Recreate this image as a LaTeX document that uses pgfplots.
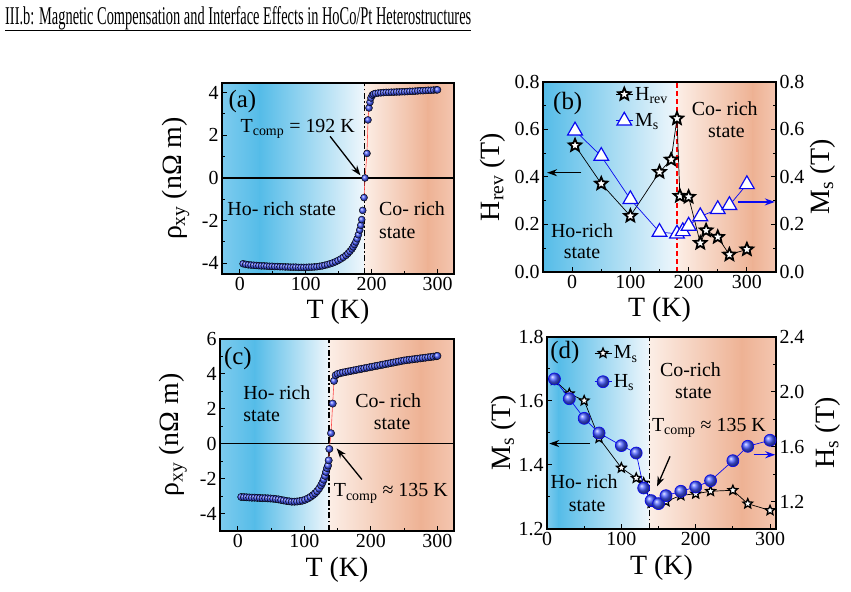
\documentclass[border=0pt]{standalone}
\usepackage{pgfplots}
\pgfplotsset{compat=1.18}
\usepackage{fontspec}
\setmainfont{Liberation Serif}
\usetikzlibrary{arrows.meta,plotmarks}

\definecolor{bluedark}{RGB}{85,188,232}
\definecolor{bluemid}{RGB}{125,203,238}
\definecolor{bluelight}{RGB}{240,247,252}
\definecolor{salmonlight}{RGB}{252,238,230}
\definecolor{salmon}{RGB}{238,178,148}
\definecolor{salmonedge}{RGB}{244,198,176}
\definecolor{mblue}{RGB}{70,90,255}
\definecolor{tblue}{RGB}{10,10,240}

\pgfdeclareplotmark{fivestar}{%
  \pgfpathmoveto{\pgfpointpolar{90}{\pgfplotmarksize}}%
  \pgfpathlineto{\pgfpointpolar{126}{0.45\pgfplotmarksize}}%
  \pgfpathlineto{\pgfpointpolar{162}{\pgfplotmarksize}}%
  \pgfpathlineto{\pgfpointpolar{198}{0.45\pgfplotmarksize}}%
  \pgfpathlineto{\pgfpointpolar{234}{\pgfplotmarksize}}%
  \pgfpathlineto{\pgfpointpolar{270}{0.45\pgfplotmarksize}}%
  \pgfpathlineto{\pgfpointpolar{306}{\pgfplotmarksize}}%
  \pgfpathlineto{\pgfpointpolar{342}{0.45\pgfplotmarksize}}%
  \pgfpathlineto{\pgfpointpolar{18}{\pgfplotmarksize}}%
  \pgfpathlineto{\pgfpointpolar{54}{0.45\pgfplotmarksize}}%
  \pgfpathclose
  \pgfusepathqfillstroke
}

\pgfplotsset{
  panel/.style={
    scale only axis,
    axis on top,
    axis line style={line width=1.3bp},
    every tick/.style={black, line width=1bp},
    major tick length=5bp, minor tick length=3bp,
    tick align=inside,
    ticklabel style={font=\fontsize{20}{22}\selectfont},
    /pgf/number format/assume math mode=true,
    label style={font=\fontsize{28}{30}\selectfont},
    xlabel style={at={(axis description cs:0.5,-0.2)}, anchor=center},
    minor tick num=1,
  },
  rightpanel/.style={
    scale only axis,
    axis x line=none,
    axis y line*=right,
    axis line style={line width=1.3bp},
    every tick/.style={black, line width=1bp},
    major tick length=5bp, minor tick length=3bp,
    tick align=inside,
    ticklabel style={font=\fontsize{20}{22}\selectfont},
    /pgf/number format/assume math mode=true,
    label style={font=\fontsize{28}{30}\selectfont},
    minor tick num=1,
  },
  onedec/.style={yticklabel style={/pgf/number format/fixed, /pgf/number format/fixed zerofill, /pgf/number format/precision=1}},
}
\newcommand{\tx}{\fontsize{20}{22}\selectfont}
\tikzset{dd/.style={black, line width=1.3bp, dash pattern=on 6bp off 2.5bp on 1.5bp off 2.5bp},
  arr/.style={-{Stealth[length=10bp,width=7bp]}, line width=1.3bp}}

\begin{document}
\begin{tikzpicture}
\useasboundingbox (0,0) rectangle (851bp,592bp);

% title
\node[anchor=base west, inner sep=0pt] at (5bp,567bp) {\resizebox{466bp}{18bp}{III.b: Magnetic Compensation and Interface Effects in HoCo/Pt Heterostructures}};
\draw[line width=1.4bp] (5bp,561.5bp) -- (471bp,561.5bp);

% ---------------- (a)
\begin{axis}[panel, at={(222bp,318bp)}, anchor=south west, width=232bp, height=191bp,
  xmin=-27, xmax=325, ymin=-4.5, ymax=4.45,
  xtick={0,100,200,300}, ytick={-4,-2,0,2,4}, xtick pos=bottom, ytick pos=left,
  xlabel={T (K)}, ylabel={ρ\textsubscript{xy} (nΩ m)},
  ylabel style={at={(axis description cs:-0.2,0.5)}, anchor=center}]
\shade[left color=bluemid, right color=bluedark] (axis cs:-27,-4.5) rectangle (axis cs:30.5,4.45);
\shade[left color=bluedark, right color=bluelight] (axis cs:30,-4.5) rectangle (axis cs:189.5,4.45);
\shade[left color=salmonlight, right color=salmon] (axis cs:189,-4.5) rectangle (axis cs:285.5,4.45);
\shade[left color=salmon, right color=salmonedge] (axis cs:285,-4.5) rectangle (axis cs:325,4.45);
\draw[black, line width=1.1bp] (axis cs:-27,0) -- (axis cs:325,0);
\draw[dd] (axis cs:189,-4.5) -- (axis cs:189,4.45);
\addplot[red!70, line width=0.6bp, forget plot] coordinates {(188.5,-0.92)(190,0.0)(193,1.15)(194.5,2.72)(196,3.28)(197.5,3.55)(199,3.75)(201,3.88)};
\addplot[only marks, mark=ball, mark size=3.5bp, mark options={ball color=mblue}] coordinates {
(5,-4.02)(9,-4.05)(13,-4.07)(17,-4.08)(21,-4.09)(25,-4.10)(29,-4.11)(33,-4.12)(37,-4.12)(41,-4.13)(45,-4.14)(49,-4.14)(53,-4.15)(57,-4.15)(61,-4.16)(65,-4.16)(69,-4.17)(73,-4.17)(77,-4.18)(81,-4.18)(85,-4.18)(89,-4.19)(93,-4.19)(97,-4.19)(101,-4.19)(105,-4.18)(109,-4.18)(113,-4.17)(117,-4.16)(121,-4.14)(125,-4.12)(129,-4.09)(133,-4.06)(137,-4.02)(141,-3.98)(145,-3.93)(149,-3.87)(153,-3.80)(157,-3.72)(161,-3.63)(164,-3.54)(167,-3.44)(170,-3.33)(172,-3.23)(174,-3.12)(176,-3.0)(178,-2.85)(180,-2.66)(182,-2.44)(183.5,-2.22)(185,-1.95)(186.5,-1.52)(188.5,-0.92)(190,0.0)(193,1.15)(194.5,2.72)(196,3.28)(197.5,3.55)(199,3.75)(201,3.88)(203,3.93)(206,3.96)(210,3.98)(214,3.99)
(218,4.00)(222,4.01)(226,4.01)(230,4.02)(234,4.02)(238,4.03)(242,4.03)(246,4.04)(250,4.04)(254,4.05)(258,4.06)(262,4.06)(266,4.07)(270,4.08)(274,4.09)(278,4.09)(282,4.10)(286,4.11)(290,4.11)(294,4.12)(298,4.13)(300,4.13)};
\node[font=\fontsize{25}{26}\selectfont, inner sep=0pt] at (axis cs:4,3.6) {(a)};
\node[font=\tx, anchor=base west, inner sep=0pt] at (axis cs:1,2.15) {T\textsubscript{comp} = 192 K};
\draw[arr] (axis cs:137,1.95) -- (axis cs:183,0.12);
\node[font=\tx, anchor=base west, inner sep=0pt] at (axis cs:-19,-1.75) {Ho- rich state};
\node[font=\tx, anchor=base west, inner sep=0pt] at (axis cs:211,-1.75) {Co- rich};
\node[font=\tx, anchor=base west, inner sep=0pt] at (axis cs:211,-2.84) {state};
\end{axis}

% ---------------- (b)
\begin{axis}[panel, onedec, at={(543bp,320bp)}, anchor=south west, width=233bp, height=190bp,
  xmin=-50, xmax=350, ymin=0, ymax=0.8,
  xtick={0,100,200,300}, ytick={0,0.2,0.4,0.6,0.8}, xtick pos=bottom, ytick pos=left,
  xlabel={T (K)}, ylabel={H\textsubscript{rev} (T)},
  ylabel style={at={(axis description cs:-0.215,0.5)}, anchor=center},
  legend style={at={(axis description cs:0.31,0.985)}, anchor=north west, draw=none, fill=none, font=\tx, row sep=8bp, inner sep=0pt},
  legend cell align=left]
\shade[left color=bluedark, right color=bluelight] (axis cs:-50,0) rectangle (axis cs:180.5,0.8);
\shade[left color=salmonlight, right color=salmon] (axis cs:180,0) rectangle (axis cs:310.5,0.8);
\shade[left color=salmon, right color=salmonedge] (axis cs:310,0) rectangle (axis cs:350,0.8);
\draw[red, line width=1.6bp, dash pattern=on 5bp off 3bp] (axis cs:180,0) -- (axis cs:180,0.8);
\addplot[black, line width=0.7bp, mark=fivestar, mark size=6.5bp, mark options={solid, draw=black, fill=white, line width=1.8bp}] coordinates {
(5,0.533)(50,0.372)(100,0.236)(150,0.421)(170,0.473)(180,0.646)(185,0.32)(200,0.316)(220,0.122)(230,0.175)(250,0.147)(270,0.073)(300,0.095)};
\addlegendentry{H\textsubscript{rev}}
\addlegendimage{tblue, line width=0.7bp, mark=triangle*, mark size=8.5bp, mark options={solid, draw=tblue, fill=white, line width=1.2bp}}
\addlegendentry{M\textsubscript{s}}
\node[font=\fontsize{25}{26}\selectfont, inner sep=0pt] at (axis cs:-7.5,0.709) {(b)};
\node[font=\tx, anchor=base, inner sep=0pt] at (axis cs:262,0.66) {Co- rich};
\node[font=\tx, anchor=base, inner sep=0pt] at (axis cs:265,0.568) {state};
\node[font=\tx, anchor=base, inner sep=0pt] at (axis cs:17,0.147) {Ho-rich};
\node[font=\tx, anchor=base, inner sep=0pt] at (axis cs:17,0.056) {state};
\draw[arr] (axis cs:16,0.418) -- (axis cs:-43,0.418);
\draw[arr, tblue] (axis cs:284,0.295) -- (axis cs:348,0.295);
\end{axis}
\begin{axis}[rightpanel, onedec, at={(543bp,320bp)}, anchor=south west, width=233bp, height=190bp,
  xmin=-50, xmax=350, ymin=0, ymax=0.8, ytick={0,0.2,0.4,0.6,0.8},
  ylabel={M\textsubscript{s} (T)},
  ylabel style={at={(axis description cs:1.2,0.5)}, anchor=center}]
\addplot[tblue, line width=0.7bp, mark=triangle*, mark size=8.5bp, mark options={solid, draw=tblue, fill=white, line width=1.2bp}] coordinates {
(5,0.595)(50,0.488)(100,0.306)(150,0.168)(180,0.161)(190,0.171)(200,0.194)(220,0.234)(250,0.264)(270,0.281)(300,0.369)};
\end{axis}

% ---------------- (c)
\begin{axis}[panel, at={(220bp,61bp)}, anchor=south west, width=234bp, height=192bp,
  xmin=-27, xmax=325, ymin=-5, ymax=6,
  xtick={0,100,200,300}, ytick={-4,-2,0,2,4,6}, xtick pos=bottom, ytick pos=left,
  xlabel={T (K)}, ylabel={ρ\textsubscript{xy} (nΩ m)},
  ylabel style={at={(axis description cs:-0.2,0.5)}, anchor=center}]
\shade[left color=bluemid, right color=bluedark] (axis cs:-27,-5) rectangle (axis cs:25.5,6);
\shade[left color=bluedark, right color=bluelight] (axis cs:25,-5) rectangle (axis cs:137.5,6);
\shade[left color=salmonlight, right color=salmon] (axis cs:137,-5) rectangle (axis cs:275.5,6);
\shade[left color=salmon, right color=salmonedge] (axis cs:275,-5) rectangle (axis cs:325,6);
\draw[black, line width=1.1bp] (axis cs:-27,0) -- (axis cs:325,0);
\draw[dd] (axis cs:137,-5) -- (axis cs:137,6);
\addplot[red!70, line width=0.6bp, forget plot] coordinates {(136.5,-0.95)(137.5,-0.30)(140,0.6)(142.5,2.3)(144.5,3.6)(147,3.92)};
\addplot[only marks, mark=ball, mark size=3.7bp, mark options={ball color=mblue}] coordinates {
(5,-3.05)(9,-3.06)(13,-3.07)(17,-3.08)(21,-3.09)(25,-3.09)(29,-3.10)(33,-3.11)(37,-3.12)(41,-3.12)(45,-3.13)(49,-3.14)(53,-3.15)(57,-3.17)(61,-3.19)(65,-3.22)(69,-3.25)(73,-3.28)(77,-3.30)(81,-3.32)(85,-3.32)(89,-3.31)(93,-3.29)(97,-3.26)(101,-3.21)(105,-3.14)(109,-3.05)(113,-2.94)(116,-2.84)(119,-2.72)(122,-2.57)(125,-2.39)(127,-2.24)(129,-2.06)(131,-1.84)(132.5,-1.62)(134,-1.40)(135.5,-1.25)(136.5,-0.95)(137.5,-0.30)(140,0.6)(142.5,2.3)(144.5,3.6)(147,3.92)
(150,4.00)(154,4.04)(158,4.08)(162,4.11)(166,4.14)(170,4.17)(174,4.20)(178,4.23)(182,4.26)(186,4.29)(190,4.32)(194,4.35)(198,4.38)(202,4.41)(206,4.44)(210,4.47)(214,4.50)(218,4.53)(222,4.56)(226,4.59)(230,4.62)(234,4.65)(238,4.68)(242,4.71)(246,4.74)(250,4.77)(254,4.79)(258,4.81)(262,4.83)(266,4.85)(270,4.87)(274,4.89)(278,4.91)(282,4.93)(286,4.95)(290,4.97)(294,4.99)(298,5.01)(300,5.03)};
\node[font=\fontsize{25}{26}\selectfont, inner sep=0pt] at (axis cs:0,4.9) {(c)};
\node[font=\tx, anchor=base west, inner sep=0pt] at (axis cs:8,2.55) {Ho- rich};
\node[font=\tx, anchor=base west, inner sep=0pt] at (axis cs:8,1.26) {state};
\node[font=\tx, anchor=base, inner sep=0pt] at (axis cs:226,2.09) {Co- rich};
\node[font=\tx, anchor=base, inner sep=0pt] at (axis cs:232,0.79) {state};
\node[font=\tx, anchor=base west, inner sep=0pt] at (axis cs:144,-3.05) {T\textsubscript{comp} ≈ 135 K};
\draw[arr] (axis cs:186.5,-2.05) -- (axis cs:148.5,-0.27);
\end{axis}

% ---------------- (d)
\begin{axis}[panel, onedec, at={(547bp,63bp)}, anchor=south west, width=229bp, height=192bp,
  xmin=0, xmax=308, ymin=1.2, ymax=1.8,
  xtick={0,100,200,300}, ytick={1.2,1.4,1.6,1.8}, xtick pos=bottom, ytick pos=left,
  xlabel={T (K)}, ylabel={M\textsubscript{s} (T)},
  ylabel style={at={(axis description cs:-0.19,0.5)}, anchor=center},
  legend style={at={(axis description cs:0.205,0.965)}, anchor=north west, draw=none, fill=none, font=\tx, row sep=10bp, inner sep=0pt},
  legend cell align=left]
\shade[left color=bluemid, right color=bluedark] (axis cs:0,1.2) rectangle (axis cs:15.5,1.8);
\shade[left color=bluedark, right color=bluelight] (axis cs:15,1.2) rectangle (axis cs:138,1.8);
\shade[left color=salmonlight, right color=salmon] (axis cs:137.5,1.2) rectangle (axis cs:262.5,1.8);
\shade[left color=salmon, right color=salmonedge] (axis cs:262,1.2) rectangle (axis cs:308,1.8);
\draw[dd] (axis cs:137.5,1.2) -- (axis cs:137.5,1.8);
\addplot[black, line width=0.7bp, mark=fivestar, mark size=5bp, mark options={solid, draw=black, fill=white, line width=1.3bp}] coordinates {
(10,1.665)(30,1.623)(50,1.601)(70,1.484)(100,1.391)(120,1.359)(130,1.344)(140,1.281)(160,1.286)(180,1.305)(200,1.31)(220,1.318)(250,1.321)(270,1.279)(300,1.258)};
\addlegendentry{M\textsubscript{s}}
\addlegendimage{tblue, line width=0.7bp, mark=ball, mark size=6bp, mark options={ball color=mblue}}
\addlegendentry{H\textsubscript{s}}
\node[font=\fontsize{25}{26}\selectfont, inner sep=0pt] at (axis cs:24,1.75) {(d)};
\node[font=\tx, anchor=base, inner sep=0pt] at (axis cs:193,1.675) {Co-rich};
\node[font=\tx, anchor=base, inner sep=0pt] at (axis cs:197,1.609) {state};
\node[font=\tx, anchor=base west, inner sep=0pt] at (axis cs:141,1.505) {T\textsubscript{comp} ≈ 135 K};
\draw[arr] (axis cs:165.5,1.427) -- (axis cs:148,1.333);
\node[font=\tx, anchor=base, inner sep=0pt] at (axis cs:50,1.328) {Ho- rich};
\node[font=\tx, anchor=base, inner sep=0pt] at (axis cs:54,1.255) {state};
\draw[arr] (axis cs:58,1.467) -- (axis cs:3,1.467);
\draw[arr, tblue] (axis cs:278,1.432) -- (axis cs:307,1.432);
\end{axis}
\begin{axis}[rightpanel, onedec, at={(547bp,63bp)}, anchor=south west, width=229bp, height=192bp,
  xmin=0, xmax=308, ymin=1.0, ymax=2.4, ytick={1.2,1.6,2.0,2.4},
  ylabel={H\textsubscript{s} (T)},
  ylabel style={at={(axis description cs:1.227,0.5)}, anchor=center}]
\addplot[tblue, line width=0.7bp, mark=ball, mark size=6bp, mark options={ball color=mblue}] coordinates {
(10,2.094)(30,1.95)(50,1.807)(70,1.70)(100,1.608)(120,1.554)(130,1.299)(140,1.207)(150,1.185)(160,1.243)(180,1.275)(200,1.306)(220,1.352)(250,1.498)(270,1.603)(300,1.647)};
\end{axis}
\end{tikzpicture}
\end{document}
